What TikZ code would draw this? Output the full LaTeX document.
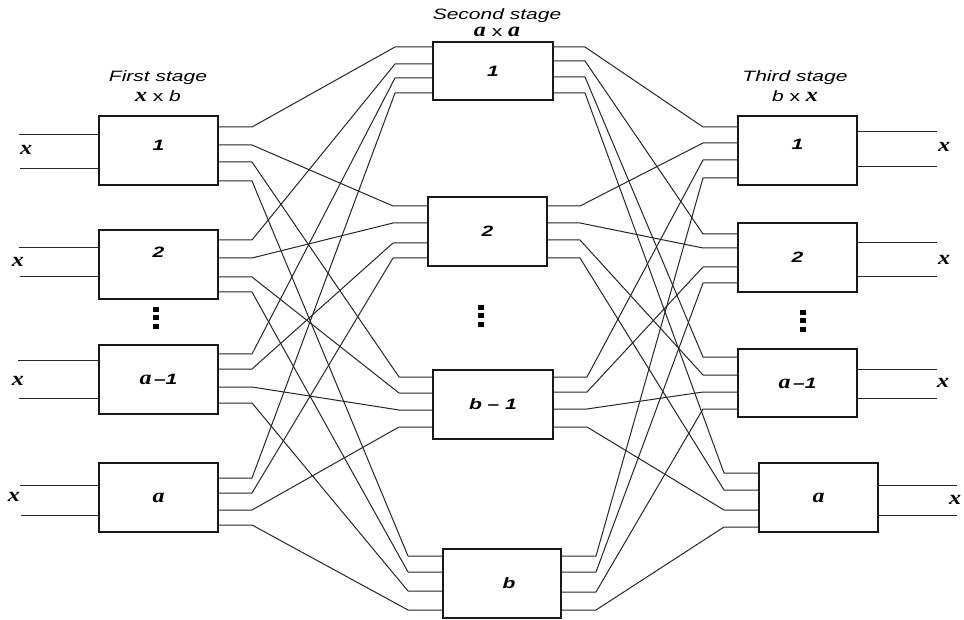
\documentclass[tikz,border=0pt]{standalone}
\usepackage{fontspec}
\newfontfamily\stagefont[FakeStretch=1.4]{Liberation Sans}
\newfontfamily\letterfont[FakeStretch=1.2]{Liberation Serif}
\newcommand\letx{{\letterfont\fontsize{20}{20}\selectfont\bfseries\itshape x}}
\newcommand\leta{{\letterfont\fontsize{20}{20}\selectfont\bfseries\itshape a}}
\newcommand\squaredots[1]{\foreach \d in {0,1,2} \fill[black,shift={(#1)}] (-3,\d*8.5) rectangle ++(6,5);}

\tikzset{
  stagebox/.style={draw=black!90, line width=1.1pt, minimum width=119pt, minimum height=69pt, inner sep=0pt, font=\stagefont\fontsize{15}{20}\selectfont\bfseries\itshape},
  wire/.style={draw=black!85, line width=1pt, line join=round},
  title/.style={align=center, inner sep=1pt}
}

\begin{document}
\begin{tikzpicture}[x=1pt, y=-1pt, font=\stagefont\fontsize{15}{20}\selectfont\itshape]
    \useasboundingbox (0,0) rectangle (964,620);

    % Stage titles
    \node[title] (title1) at (158,86) {First stage\\\letx\ {\upshape x} b};
    \node[title] (title2) at (497,23) {Second stage\\[-3pt]\leta\ {\upshape x} \leta};
    \node[title] (title3) at (795,86) {Third stage\\b {\upshape x} \letx};

    % First stage boxes
    \node[stagebox, text depth=11pt] (f1) at (158.5,150.5) {1};
    \node[stagebox, text depth=24pt] (f2) at (158.5,264.5) {2};
    \node[stagebox] (f3) at (158.5,379.5) {\leta\,–1};
    \node[stagebox] (f4) at (158.5,497.5) {\leta};

    % Second stage boxes
    \node[stagebox, minimum width=120pt, minimum height=58pt] (s1) at (493,71) {1};
    \node[stagebox] (s2) at (487.5,231.5) {2};
    \node[stagebox, minimum width=120pt] (s3) at (493,404.5) {b – 1};
    \node[stagebox, minimum width=118pt] (s4) at (502,583.5) {\hspace{14pt}b};

    % Third stage boxes
    \node[stagebox, text depth=13pt] (t1) at (797.5,150.5) {1};
    \node[stagebox] (t2) at (797.5,257.5) {2};
    \node[stagebox, minimum height=68pt] (t3) at (797.5,383) {\leta\,–1};
    \node[stagebox] (t4) at (818.5,497.5) {\leta\hspace{15pt}};

    % Dots between boxes
    \squaredots{156,307}
    \squaredots{481,305}
    \squaredots{802.5,310}

    % Ports of the first stage (right side)
    \foreach \n/\ya/\yb/\yc/\yd in {1/127/145/162/181, 2/240/258/277/292, 3/354/369/387/403, 4/478/493/510/525}
      \foreach \k/\y in {1/\ya, 2/\yb, 3/\yc, 4/\yd}{
        \coordinate (f\n-e\k) at (f\n.east |- 0,\y);
        \coordinate (f\n-b\k) at (252,\y);
      }

    % Ports of the second stage (both sides)
    \foreach \n/\xl/\xr/\ya/\yb/\yc/\yd/\za/\zb/\zc/\zd in {1/395/585/47/64/78/93/47/61/77/93, 2/393/580/206/223/243/258/206/223/240/258, 3/399/587/377/393/410/427/377/392/409/427, 4/408/596/556/572/591/610/556/572/592/610}{
      \foreach \k/\y in {1/\ya, 2/\yb, 3/\yc, 4/\yd}{
        \coordinate (s\n-w\k) at (s\n.west |- 0,\y);
        \coordinate (s\n-wb\k) at (\xl,\y);
      }
      \foreach \k/\y in {1/\za, 2/\zb, 3/\zc, 4/\zd}{
        \coordinate (s\n-e\k) at (s\n.east |- 0,\y);
        \coordinate (s\n-eb\k) at (\xr,\y);
      }
    }

    % Ports of the third stage (left side)
    \foreach \n/\xl/\ya/\yb/\yc/\yd in {1/703/127/143/160/178, 2/703/234/248/267/283, 3/703/357/375/392/409, 4/724/473/490/510/527}
      \foreach \k/\y in {1/\ya, 2/\yb, 3/\yc, 4/\yd}{
        \coordinate (t\n-w\k) at (t\n.west |- 0,\y);
        \coordinate (t\n-wb\k) at (\xl,\y);
      }

    % Links between the stages
    \foreach \i in {1,...,4}
      \foreach \j in {1,...,4}{
        \draw[wire] (f\i-e\j) -- (f\i-b\j) -- (s\j-wb\i) -- (s\j-w\i);
        \draw[wire] (s\i-e\j) -- (s\i-eb\j) -- (t\j-wb\i) -- (t\j-w\i);
      }

    % Inputs of the first stage
    \foreach \n/\ya/\yb/\xs/\lx/\ly in {1/135/169/19/26/150, 2/248/277/19/18/262, 3/360/398/18/18/381, 4/485/515/20/14/497}{
      \coordinate (in\n a) at (\xs,\ya);
      \coordinate (in\n b) at (\xs+1,\yb);
      \draw[wire] (in\n a) -- (f\n.west |- in\n a);
      \draw[wire] (in\n b) -- (f\n.west |- in\n b);
      \node (xin\n) at (\lx,\ly) {\letx};
    }

    % Outputs of the third stage
    \foreach \n/\ya/\yb/\xe/\lx/\ly in {1/132/167/937/944/147, 2/243/277/937/944/260, 3/369/398/937/943/383, 4/485/515/957/955/500}{
      \coordinate (out\n a) at (\xe,\ya);
      \coordinate (out\n b) at (\xe,\yb);
      \draw[wire] (t\n.east |- out\n a) -- (out\n a);
      \draw[wire] (t\n.east |- out\n b) -- (out\n b);
      \node (xout\n) at (\lx,\ly) {\letx};
    }
\end{tikzpicture}
\end{document}
